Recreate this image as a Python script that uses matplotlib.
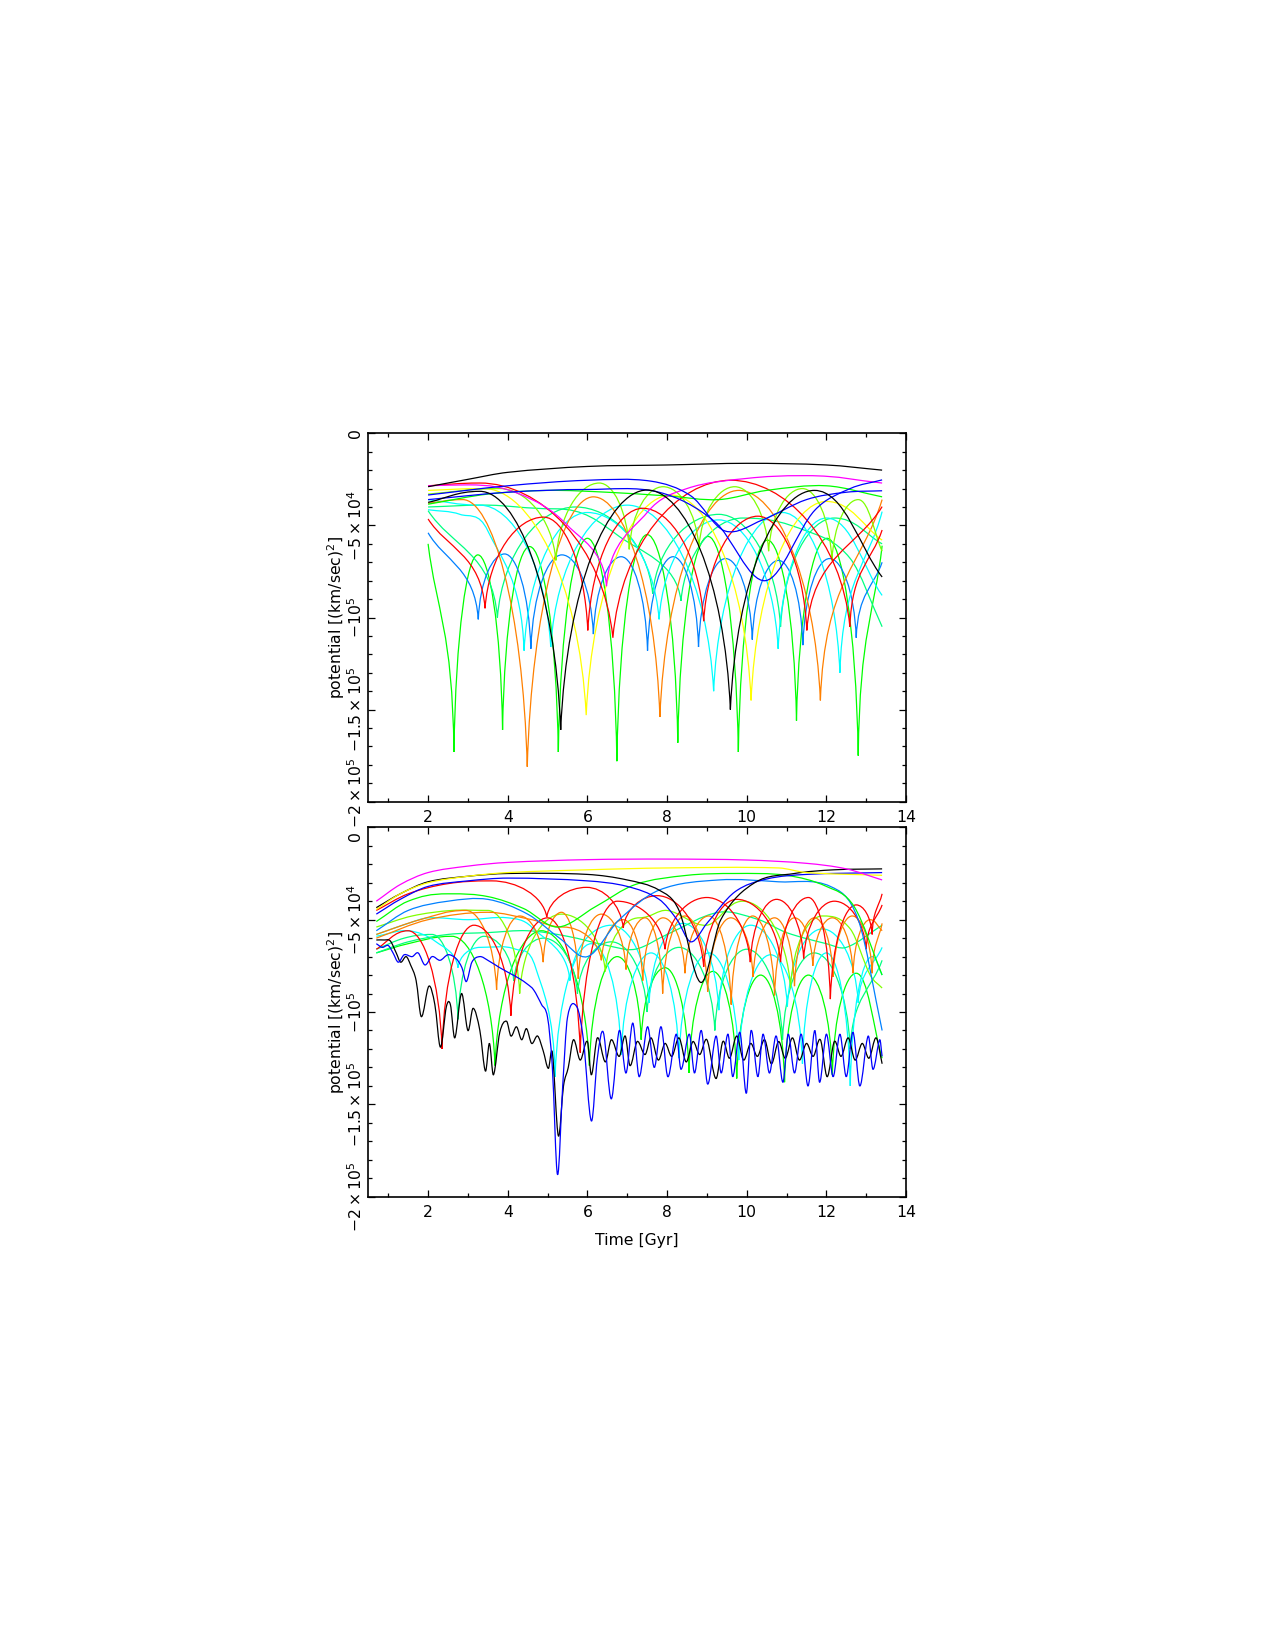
import matplotlib
matplotlib.use("Agg")
import matplotlib.pyplot as plt
from matplotlib.path import Path
from matplotlib.patches import PathPatch
from matplotlib.ticker import MultipleLocator
from matplotlib.transforms import blended_transform_factory, offset_copy

# ---------------- data: time [Gyr], potential [1e4 (km/s)^2], knot kind ----------------
# kind: 'c' smooth point, 'a' apocentre (rounded maximum), 'p' pericentre (sharp minimum)
X_TICKS = [2, 4, 6, 8, 10, 12, 14]
Y_TICKS = [0, -5e4, -1e5, -1.5e5, -2e5]
Y_TICK_LABELS = ["0", r"$-5\times10^4$", r"$-10^5$", r"$-1.5\times10^5$", r"$-2\times10^5$"]
Y_LABEL = r"potential [(km/sec)$^2$]"
X_LABEL = "Time [Gyr]"

# ---- top panel ----
TOP_BLACK_1 = [(2.0, -2.9, 'c'), (3.0, -2.5, 'c'), (4.0, -2.12, 'c'), (6.0, -1.8, 'c'), (8.0, -1.72, 'c'),
               (10.0, -1.63, 'c'), (12.0, -1.72, 'c'), (13.4, -2.0, 'c')]
TOP_BLACK_2 = [(2.0, -3.75, 'c'), (3.3, -3.15, 'a'), (5.33, -16.1, 'p'), (7.5, -3.08, 'a'), (9.59, -15.0, 'p'),
               (11.7, -3.1, 'a'), (13.4, -7.8, 'c')]
TOP_MAGENTA = [(2.0, -2.85, 'c'), (3.0, -2.8, 'a'), (4.3, -3.3, 'c'), (5.5, -5.0, 'c'), (6.48, -8.3, 'p'),
               (7.5, -4.3, 'c'), (8.5, -3.0, 'c'), (10.0, -2.45, 'c'), (11.5, -2.3, 'a'), (13.4, -2.7, 'c')]
TOP_RED_1 = [(2.0, -4.65, 'c'), (3.43, -9.5, 'p'), (4.9, -4.55, 'a'), (6.01, -10.7, 'p'), (7.39, -4.07, 'a'),
             (8.92, -10.2, 'p'), (10.28, -4.5, 'a'), (11.51, -10.7, 'p'), (13.4, -3.98, 'c')]
TOP_RED_2 = [(2.0, -2.85, 'c'), (3.3, -2.7, 'a'), (6.64, -11.1, 'p'), (9.6, -2.55, 'a'), (12.59, -10.5, 'p'),
             (13.4, -5.25, 'c')]
TOP_ORANGE = [(2.0, -3.8, 'c'), (2.87, -3.6, 'a'), (4.49, -18.1, 'p'), (6.15, -3.45, 'a'), (7.82, -15.4, 'p'),
              (9.8, -3.1, 'a'), (11.85, -14.5, 'p'), (13.4, -3.6, 'c')]
TOP_YELLOW = [(2.0, -3.1, 'c'), (3.4, -3.0, 'a'), (5.97, -15.3, 'p'), (8.1, -3.35, 'a'), (10.11, -14.5, 'p'),
              (12.0, -3.7, 'a'), (13.4, -5.8, 'c')]
TOP_GREEN = [(2.0, -6.0, 'c'), (2.65, -17.3, 'p'), (3.25, -6.6, 'a'), (3.87, -16.1, 'p'), (4.55, -6.15, 'a'),
             (5.27, -17.3, 'p'), (6.0, -5.7, 'a'), (6.74, -17.8, 'p'), (7.5, -5.5, 'a'), (8.27, -16.8, 'p'),
             (9.03, -5.6, 'a'), (9.79, -17.3, 'p'), (10.52, -5.8, 'a'), (11.25, -15.6, 'p'), (12.02, -5.7, 'a'),
             (12.8, -17.5, 'p'), (13.4, -6.1, 'c')]
TOP_GREEN_WAVY = [(2.0, -3.85, 'c'), (3.5, -3.3, 'c'), (5.0, -3.1, 'c'), (6.5, -3.2, 'c'), (8.0, -3.4, 'c'),
                  (9.3, -3.6, 'c'), (10.5, -3.1, 'c'), (12.0, -2.85, 'c'), (13.4, -3.45, 'c')]
TOP_AZURE = [(2.0, -5.4, 'c'), (3.26, -10.1, 'p'), (3.92, -6.55, 'a'), (4.58, -11.7, 'p'), (5.36, -6.6, 'a'),
             (6.15, -10.9, 'p'), (6.85, -6.7, 'a'), (7.51, -11.8, 'p'), (8.15, -6.7, 'a'), (8.79, -11.6, 'p'),
             (9.47, -6.8, 'a'), (10.14, -11.2, 'p'), (10.8, -6.9, 'a'), (11.41, -11.5, 'p'), (12.08, -6.8, 'a'),
             (12.75, -11.1, 'p'), (13.4, -7.0, 'c')]
TOP_CYAN_1 = [(2.0, -4.15, 'c'), (2.8, -4.4, 'c'), (3.5, -5.3, 'c'), (4.41, -11.8, 'p'), (6.0, -4.3, 'a'),
              (7.8, -10.1, 'p'), (9.3, -4.7, 'a'), (10.79, -11.7, 'p'), (12.0, -4.6, 'a'), (13.4, -8.8, 'c')]
TOP_CYAN_2 = [(2.0, -3.6, 'c'), (3.3, -3.9, 'a'), (5.08, -11.6, 'p'), (7.0, -3.9, 'a'), (9.17, -14.0, 'p'),
              (10.9, -4.3, 'a'), (12.34, -13.0, 'p'), (13.4, -4.25, 'c')]
TOP_CHARTREUSE = [(2.0, -3.3, 'c'), (3.8, -3.0, 'a'), (5.21, -6.9, 'p'), (6.3, -2.7, 'a'), (7.05, -6.3, 'p'),
                  (7.9, -2.9, 'a'), (8.8, -6.2, 'p'), (9.7, -2.9, 'a'), (10.55, -6.4, 'p'), (11.4, -3.0, 'a'),
                  (12.14, -6.9, 'p'), (12.8, -3.6, 'a'), (13.4, -6.4, 'c')]
TOP_SPRING_1 = [(2.0, -4.2, 'c'), (3.74, -10.0, 'p'), (5.7, -4.0, 'a'), (7.64, -8.7, 'p'), (9.3, -4.4, 'a'),
                (10.85, -10.5, 'p'), (12.2, -4.6, 'a'), (13.4, -6.0, 'c')]
TOP_SPRING_2 = [(2.0, -4.0, 'c'), (3.5, -3.9, 'c'), (5.2, -4.1, 'a'), (6.8, -5.6, 'c'), (8.35, -9.1, 'p'),
                (9.9, -4.6, 'a'), (11.5, -5.3, 'c'), (12.6, -6.8, 'c'), (13.4, -10.5, 'c')]
TOP_BLUE_1 = [(2.0, -3.35, 'c'), (4.0, -2.85, 'c'), (6.0, -2.55, 'c'), (7.6, -2.6, 'c'), (8.6, -3.4, 'c'),
              (9.45, -5.3, 'c'), (10.4, -4.7, 'c'), (11.5, -3.6, 'c'), (12.5, -3.2, 'c'), (13.4, -3.12, 'c')]
TOP_BLUE_2 = [(2.0, -3.6, 'c'), (4.0, -3.2, 'c'), (6.0, -3.05, 'c'), (7.8, -3.2, 'c'), (9.2, -4.8, 'c'),
              (10.47, -8.0, 'c'), (11.7, -4.2, 'c'), (12.6, -3.0, 'c'), (13.4, -2.53, 'c')]

# ---- bottom panel ----
BOT_MAGENTA = [(0.7, -4.0, 'c'), (1.3, -3.1, 'c'), (2.0, -2.45, 'c'), (3.0, -2.1, 'c'), (4.0, -1.9, 'c'),
               (6.0, -1.75, 'c'), (8.0, -1.72, 'c'), (10.0, -1.77, 'c'), (11.5, -1.95, 'c'), (12.5, -2.25, 'c'),
               (13.4, -2.85, 'c')]
BOT_YELLOW = [(0.7, -4.45, 'c'), (1.3, -3.6, 'c'), (2.0, -3.0, 'c'), (3.0, -2.65, 'c'), (4.0, -2.45, 'c'),
              (6.0, -2.3, 'c'), (8.0, -2.2, 'c'), (10.8, -2.2, 'c'), (11.5, -2.45, 'c'), (13.4, -2.6, 'c')]
BOT_BLACK_1 = [(0.7, -4.35, 'c'), (1.3, -3.6, 'c'), (2.0, -2.95, 'c'), (3.0, -2.65, 'c'), (4.0, -2.5, 'c'),
               (6.0, -2.55, 'c'), (7.0, -2.85, 'c'), (7.8, -3.4, 'c'), (8.3, -4.5, 'c'), (8.85, -8.4, 'c'),
               (9.35, -5.0, 'c'), (10.2, -3.0, 'c'), (11.2, -2.5, 'c'), (12.2, -2.3, 'c'), (13.4, -2.25, 'c')]
BOT_BLUE_1 = [(0.7, -4.7, 'c'), (1.3, -3.9, 'c'), (2.0, -3.2, 'c'), (3.0, -2.9, 'c'), (4.0, -2.75, 'c'),
              (6.0, -2.9, 'c'), (7.0, -3.2, 'c'), (7.8, -3.9, 'c'), (8.25, -5.0, 'c'), (8.6, -6.2, 'c'),
              (9.0, -5.2, 'c'), (9.7, -3.5, 'c'), (10.5, -2.8, 'c'), (11.5, -2.55, 'c'), (13.4, -2.45, 'c')]
BOT_GREEN_1 = [(0.7, -5.1, 'c'), (1.5, -4.0, 'c'), (2.5, -3.6, 'a'), (3.5, -3.75, 'c'), (4.4, -4.4, 'c'),
               (5.25, -5.4, 'c'), (6.2, -4.3, 'c'), (7.2, -3.1, 'c'), (8.5, -2.6, 'c'), (9.7, -2.5, 'c'),
               (11.0, -2.6, 'c'), (12.0, -3.2, 'c'), (12.7, -4.3, 'c'), (13.4, -8.0, 'c')]
BOT_AZURE = [(0.7, -5.6, 'c'), (1.5, -4.5, 'c'), (2.5, -4.0, 'c'), (3.5, -3.9, 'c'), (4.5, -4.7, 'c'),
             (5.3, -6.0, 'c'), (6.0, -7.0, 'c'), (6.8, -5.0, 'c'), (7.8, -3.4, 'c'), (9.3, -2.85, 'c'),
             (10.8, -2.95, 'c'), (12.1, -3.2, 'c'), (12.8, -5.0, 'c'), (13.4, -11.0, 'c')]
BOT_RED_1 = [(0.7, -4.5, 'c'), (1.5, -3.6, 'c'), (2.5, -3.05, 'c'), (3.6, -2.9, 'a'), (4.98, -4.85, 'p'),
             (5.98, -3.25, 'a'), (6.9, -5.45, 'p'), (7.75, -3.7, 'a'), (8.92, -7.55, 'p'), (9.75, -3.9, 'a'),
             (10.85, -7.3, 'p'), (11.55, -3.8, 'a'), (12.1, -9.3, 'p'), (12.75, -4.2, 'a'), (13.15, -5.8, 'p'),
             (13.4, -3.6, 'c')]
BOT_RED_2 = [(0.7, -6.6, 'c'), (1.5, -5.6, 'a'), (2.35, -12.0, 'p'), (3.15, -5.3, 'a'), (4.08, -10.2, 'p'),
             (5.0, -4.9, 'a'), (5.82, -12.2, 'p'), (6.75, -4.0, 'a'), (7.95, -6.6, 'p'), (9.0, -3.8, 'a'),
             (10.09, -7.3, 'p'), (10.75, -3.9, 'a'), (11.43, -7.1, 'p'), (12.2, -4.0, 'a'), (13.0, -6.6, 'p'),
             (13.4, -4.2, 'c')]
BOT_ORANGE_1 = [(0.7, -5.8, 'c'), (1.8, -5.0, 'c'), (2.95, -4.5, 'a'), (3.72, -8.8, 'p'), (4.3, -4.8, 'a'),
                (4.89, -7.3, 'p'), (5.35, -4.6, 'a'), (5.77, -8.2, 'p'), (6.35, -4.7, 'a'), (6.97, -7.7, 'p'),
                (7.45, -4.9, 'a'), (7.89, -9.0, 'p'), (8.45, -4.8, 'a'), (9.02, -8.9, 'p'), (9.6, -4.9, 'a'),
                (10.16, -8.1, 'p'), (10.7, -4.9, 'a'), (11.2, -8.6, 'p'), (11.7, -4.9, 'a'), (12.17, -8.1, 'p'),
                (12.65, -4.8, 'a'), (13.15, -7.9, 'p'), (13.4, -5.2, 'c')]
BOT_ORANGE_2 = [(0.7, -6.0, 'c'), (2.0, -5.0, 'c'), (3.5, -4.6, 'c'), (4.6, -5.0, 'c'), (5.4, -5.4, 'a'),
                (6.35, -7.2, 'p'), (6.9, -5.0, 'a'), (7.39, -8.3, 'p'), (7.9, -4.9, 'a'), (8.45, -7.9, 'p'),
                (9.05, -4.8, 'a'), (9.61, -9.6, 'p'), (10.15, -4.8, 'a'), (10.7, -9.1, 'p'), (11.2, -4.9, 'a'),
                (11.66, -7.5, 'p'), (12.15, -4.9, 'a'), (12.67, -7.9, 'p'), (13.1, -5.0, 'a'), (13.4, -5.6, 'c')]
BOT_CHARTREUSE = [(0.7, -5.4, 'c'), (1.6, -4.8, 'c'), (2.6, -4.5, 'c'), (3.5, -4.5, 'a'), (4.3, -9.0, 'p'),
                  (5.35, -4.7, 'a'), (6.45, -7.8, 'p'), (7.3, -4.9, 'a'), (8.0, -4.5, 'c'), (9.0, -5.3, 'c'),
                  (9.9, -4.0, 'a'), (11.1, -8.7, 'p'), (11.9, -4.8, 'a'), (12.6, -5.5, 'c'), (13.1, -8.0, 'c'),
                  (13.4, -8.7, 'c')]
BOT_SPRING_1 = [(0.7, -6.8, 'c'), (1.5, -6.2, 'c'), (2.5, -5.8, 'c'), (3.5, -5.7, 'c'), (4.5, -5.6, 'c'),
                (5.5, -5.9, 'c'), (6.5, -6.4, 'c'), (7.2, -6.6, 'c'), (8.0, -5.8, 'c'), (9.3, -4.6, 'c'),
                (10.3, -5.0, 'c'), (11.0, -5.7, 'c'), (12.0, -6.3, 'c'), (12.5, -6.5, 'c'), (13.4, -5.3, 'c')]
BOT_SPRING_2 = [(0.7, -6.6, 'c'), (1.4, -6.0, 'c'), (2.1, -5.8, 'a'), (2.75, -10.4, 'p'), (3.4, -5.9, 'a'),
                (4.15, -8.3, 'p'), (4.9, -6.0, 'a'), (5.75, -9.0, 'p'), (6.6, -6.2, 'a'), (7.5, -10.0, 'p'),
                (8.3, -6.5, 'a'), (9.2, -11.0, 'p'), (10.0, -6.6, 'a'), (10.9, -11.5, 'p'), (11.7, -6.8, 'a'),
                (12.6, -12.0, 'p'), (13.4, -7.2, 'c')]
BOT_CYAN_1 = [(0.7, -5.8, 'c'), (1.5, -5.2, 'c'), (2.0, -4.9, 'c'), (3.0, -5.0, 'c'), (4.0, -4.9, 'c'),
              (4.6, -5.4, 'c'), (5.56, -8.3, 'p'), (6.6, -5.3, 'a'), (7.55, -9.5, 'p'), (8.4, -5.2, 'a'),
              (9.3, -9.9, 'p'), (10.1, -5.3, 'a'), (11.02, -9.7, 'p'), (11.9, -5.5, 'a'), (12.8, -9.5, 'p'),
              (13.4, -6.5, 'c')]
BOT_CYAN_2 = [(0.7, -5.9, 'c'), (1.5, -5.6, 'c'), (2.2, -6.2, 'c'), (2.75, -7.6, 'p'), (3.3, -6.5, 'a'),
              (4.2, -6.6, 'c'), (4.7, -7.6, 'c'), (5.19, -13.5, 'p'), (6.1, -6.3, 'a'), (6.85, -12.3, 'p'),
              (7.6, -6.8, 'a'), (8.3, -12.5, 'p'), (9.05, -6.8, 'a'), (9.8, -12.6, 'p'), (10.6, -6.9, 'a'),
              (11.4, -12.8, 'p'), (12.0, -6.8, 'a'), (12.6, -14.0, 'p'), (13.15, -7.0, 'a'), (13.4, -8.0, 'c')]
BOT_GREEN_2 = [(0.7, -6.8, 'c'), (1.5, -6.3, 'c'), (2.6, -5.9, 'a'), (3.68, -12.9, 'p'), (4.85, -5.6, 'a'),
               (6.05, -12.9, 'p'), (6.75, -7.0, 'a'), (7.35, -11.5, 'p'), (7.95, -7.6, 'a'), (8.55, -13.3, 'p'),
               (9.15, -7.8, 'a'), (9.75, -13.6, 'p'), (10.35, -8.0, 'a'), (10.95, -13.8, 'p'), (11.55, -8.0, 'a'),
               (12.15, -13.4, 'p'), (12.75, -7.9, 'a'), (13.4, -12.5, 'c')]
BOT_BLACK_2_T = [0.7, 0.9, 1.05, 1.2, 1.31, 1.45, 1.56, 1.7, 1.83, 2.02, 2.17, 2.31, 2.46, 2.56, 2.67, 2.84,
                 3.0, 3.13, 3.3, 3.44, 3.54, 3.64, 3.8, 3.97, 4.08, 4.22, 4.35, 4.47, 4.6, 4.75, 4.89, 5.02,
                 5.12, 5.27, 5.4, 5.52, 5.65, 5.82, 6.0, 6.1, 6.25, 6.45, 6.6, 6.8, 6.95, 7.07, 7.25, 7.45,
                 7.6, 7.78, 7.95, 8.12, 8.3, 8.48, 8.65, 8.82, 9.0, 9.23, 9.4, 9.57, 9.75, 9.92, 10.1, 10.27,
                 10.45, 10.62, 10.8, 10.97, 11.15, 11.32, 11.5, 11.67, 11.85, 12.02, 12.2, 12.37, 12.55,
                 12.72, 12.9, 13.07, 13.25, 13.4]
BOT_BLACK_2_V = [-6.1, -6.1, -6.15, -6.8, -7.3, -7.0, -7.45, -8.3, -10.25, -8.6, -9.6, -11.9, -9.7, -9.6,
                 -11.4, -9.0, -11.0, -9.8, -11.0, -13.2, -11.7, -13.4, -11.1, -10.5, -11.3, -10.8, -11.5,
                 -10.9, -11.7, -11.3, -12.1, -13.05, -12.2, -16.7, -14.0, -13.0, -11.5, -12.6, -11.6, -13.4,
                 -11.4, -12.7, -11.5, -12.4, -11.3, -12.9, -11.6, -12.3, -11.4, -12.6, -11.7, -12.4, -11.4,
                 -12.7, -11.6, -12.3, -11.5, -13.6, -11.6, -12.5, -11.3, -12.6, -11.7, -12.4, -11.5, -12.8,
                 -11.6, -12.5, -11.4, -12.6, -11.7, -12.4, -11.5, -13.5, -11.6, -12.4, -11.4, -12.6, -11.7,
                 -12.5, -11.4, -12.8]
BOT_BLUE_2_T = [0.7, 0.85, 1.0, 1.12, 1.25, 1.4, 1.6, 1.75, 1.92, 2.1, 2.3, 2.5, 2.7, 2.85, 2.96, 3.1, 3.3,
                3.5, 3.8, 4.05, 4.3, 4.5, 4.65, 4.85, 5.0, 5.12, 5.25, 5.38, 5.5, 5.73, 5.9, 6.1, 6.25, 6.4,
                6.6, 6.8, 6.97, 7.14, 7.3, 7.51, 7.68, 7.85, 8.02, 8.23, 8.35, 8.56, 8.69, 8.86, 9.02, 9.23,
                9.36, 9.53, 9.65, 9.83, 9.99, 10.11, 10.28, 10.41, 10.57, 10.74, 10.91, 11.04, 11.2, 11.37,
                11.54, 11.71, 11.83, 12.0, 12.17, 12.34, 12.5, 12.67, 12.84, 13.05, 13.17, 13.34, 13.4]
BOT_BLUE_2_V = [-6.3, -6.5, -6.4, -6.8, -7.3, -6.9, -7.0, -6.8, -7.45, -7.0, -7.2, -6.9, -7.1, -7.6, -8.35,
                -7.3, -7.0, -7.2, -7.6, -7.9, -8.2, -8.5, -8.8, -9.6, -10.3, -13.0, -18.8, -14.0, -10.3, -9.7,
                -11.5, -15.9, -12.5, -11.1, -14.7, -11.0, -13.3, -10.6, -13.5, -10.8, -13.0, -10.8, -13.5,
                -11.2, -13.1, -11.2, -13.3, -11.0, -13.9, -11.3, -13.3, -11.2, -13.5, -11.1, -14.4, -11.0,
                -13.5, -11.2, -13.3, -11.3, -13.8, -11.2, -13.3, -11.2, -14.0, -11.0, -13.8, -11.2, -13.5,
                -11.2, -13.5, -11.1, -14.0, -11.3, -13.1, -11.5, -12.4]

COL = {"black": "#000000", "red": "#ff0000", "green": "#00ff00", "blue": "#0000ff", "cyan": "#00ffff",
       "magenta": "#ff00ff", "yellow": "#ffff00", "orange": "#ff8000", "chartreuse": "#80ff00",
       "spring": "#00ff80", "azure": "#0080ff"}

TOP_CURVES = [("green", TOP_GREEN), ("spring", TOP_SPRING_1), ("spring", TOP_SPRING_2), ("azure", TOP_AZURE),
              ("cyan", TOP_CYAN_1), ("cyan", TOP_CYAN_2), ("orange", TOP_ORANGE), ("yellow", TOP_YELLOW),
              ("chartreuse", TOP_CHARTREUSE), ("red", TOP_RED_1), ("red", TOP_RED_2), ("green", TOP_GREEN_WAVY),
              ("magenta", TOP_MAGENTA), ("blue", TOP_BLUE_1), ("blue", TOP_BLUE_2), ("black", TOP_BLACK_2),
              ("black", TOP_BLACK_1)]
BOT_BLACK_2 = [(t, v, 'c') for t, v in zip(BOT_BLACK_2_T, BOT_BLACK_2_V)]
BOT_BLUE_2 = [(t, v, 'c') for t, v in zip(BOT_BLUE_2_T, BOT_BLUE_2_V)]
BOT_CURVES = [("green", BOT_GREEN_2), ("spring", BOT_SPRING_2), ("cyan", BOT_CYAN_2), ("cyan", BOT_CYAN_1),
              ("spring", BOT_SPRING_1), ("chartreuse", BOT_CHARTREUSE), ("orange", BOT_ORANGE_2),
              ("orange", BOT_ORANGE_1), ("red", BOT_RED_2), ("red", BOT_RED_1), ("azure", BOT_AZURE),
              ("green", BOT_GREEN_1), ("black", BOT_BLACK_2), ("blue", BOT_BLUE_2), ("blue", BOT_BLUE_1),
              ("black", BOT_BLACK_1), ("yellow", BOT_YELLOW), ("magenta", BOT_MAGENTA)]
SCALE = 1e4


def curve_path(knots):
    t = [k[0] for k in knots]
    v = [k[1] * SCALE for k in knots]
    kind = [k[2] for k in knots]
    n = len(t)

    def slope(i):
        if i == 0:
            return (v[1] - v[0]) / (t[1] - t[0])
        if i == n - 1:
            return (v[-1] - v[-2]) / (t[-1] - t[-2])
        return (v[i + 1] - v[i - 1]) / (t[i + 1] - t[i - 1])

    def ctrl(i, j):
        h = t[j] - t[i]
        if kind[i] == 'a':
            return (t[i] + 0.45 * h, v[i])
        if kind[i] == 'p':
            return (t[i] + 0.07 * h, v[i] + 0.6 * (v[j] - v[i]))
        return (t[i] + h / 3.0, v[i] + slope(i) * h / 3.0)

    verts = [(t[0], v[0])]
    codes = [Path.MOVETO]
    for i in range(n - 1):
        verts += [ctrl(i, i + 1), ctrl(i + 1, i), (t[i + 1], v[i + 1])]
        codes += [Path.CURVE4] * 3
    return Path(verts, codes)


plt.rcParams['font.family'] = ['DejaVu Sans']
fig = plt.figure(figsize=(8.5, 11), dpi=150)
ax_top = fig.add_axes([0.2889, 0.5141, 0.4217, 0.2233])
ax_bot = fig.add_axes([0.2889, 0.2747, 0.4217, 0.2239])

FS = 7.5
for ax, curves in ((ax_top, TOP_CURVES), (ax_bot, BOT_CURVES)):
    for cname, knots in curves:
        ax.add_patch(PathPatch(curve_path(knots), facecolor='none', edgecolor=COL[cname], lw=0.6))
    ax.set_xlim(0.5, 14)
    ax.set_ylim(-2e5, 0)
    ax.set_xticks(X_TICKS)
    ax.set_xticklabels([str(x) for x in X_TICKS], fontsize=FS)
    ax.xaxis.set_minor_locator(MultipleLocator(1))
    ax.set_yticks(Y_TICKS)
    ax.yaxis.set_minor_locator(MultipleLocator(1e4))
    ax.tick_params(which='both', direction='in', top=True, right=True, width=0.6, labelleft=False)
    ax.tick_params(which='major', length=3.5)
    ax.tick_params(which='minor', length=2)
    ax.tick_params(axis='x', pad=4)
    for s in ax.spines.values():
        s.set_linewidth(0.8)
    ax.set_ylabel(Y_LABEL, fontsize=FS)
    ax.yaxis.set_label_coords(-0.0405, 0.5)

# rotated y tick labels (PGPLOT style), nudged apart where the two panels meet
for ax, nudge_idx, nudge in ((ax_top, 4, 4.0), (ax_bot, 0, -4.0)):
    base = blended_transform_factory(ax.transAxes, ax.transData)
    for i, (yv, lab) in enumerate(zip(Y_TICKS, Y_TICK_LABELS)):
        tr = offset_copy(base, fig=fig, y=nudge, units='points') if i == nudge_idx else base
        ax.text(-0.024, yv, lab, transform=tr, rotation=90, ha='center', va='center', fontsize=FS,
                clip_on=False)

ax_bot.set_xlabel(X_LABEL, fontsize=FS)
ax_bot.xaxis.set_label_coords(0.5, -0.097)

fig.savefig("out.png", dpi=150)
